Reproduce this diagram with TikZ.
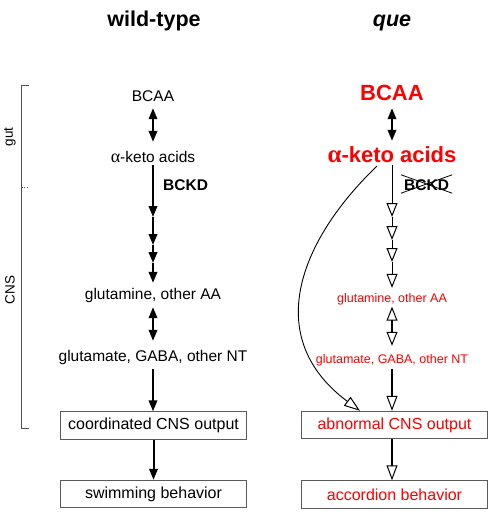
\documentclass[tikz,border=0pt]{standalone}
\usepackage{fontspec}
\setmainfont{Liberation Sans}
\newfontfamily\grk{Liberation Serif}
\usetikzlibrary{arrows.meta}
\definecolor{boxgray}{RGB}{90,90,90}
\definecolor{brgray}{RGB}{80,80,80}
\definecolor{qred}{RGB}{255,0,0}
\begin{document}
\begin{tikzpicture}[x=1pt,y=-1pt,
  lt/.style={inner sep=0pt, anchor=base, font=\fontsize{15.5}{18}\selectfont, text height=11pt, text depth=3pt},
  rsm/.style={inner sep=0pt, anchor=base, text=qred, font=\fontsize{12.5}{15}\selectfont, text height=9pt, text depth=2.5pt},
  rbig/.style={inner sep=0pt, anchor=base, text=qred, font=\bfseries\fontsize{22}{26}\selectfont, text height=16pt, text depth=0pt},
  ttl/.style={inner sep=0pt, anchor=base, font=\bfseries\fontsize{21.5}{25}\selectfont},
  boxn/.style={draw=boxgray, line width=0.9pt, minimum width=186pt, minimum height=27.5pt, inner sep=0pt, font=\fontsize{16}{19}\selectfont},
  solidarr/.style={line width=2pt, -{Triangle[length=11pt,width=8.5pt]}},
  soliddbl/.style={line width=2pt, {Triangle[length=11pt,width=8.5pt]}-{Triangle[length=11pt,width=8.5pt]}},
  openarr/.style={line width=1pt, -{Triangle[open,length=14pt,width=11pt,line width=1pt]}},
  opendbl/.style={line width=1.8pt, {Triangle[open,length=14pt,width=11pt,line width=1pt]}-{Triangle[open,length=14pt,width=11pt,line width=1pt]}},
  openthick/.style={line width=2pt, -{Triangle[open,length=15pt,width=11pt,line width=1pt]}},
  lbl/.style={inner sep=0pt, font=\fontsize{13.5}{16}\selectfont, rotate=90}
]
\useasboundingbox (0,0) rectangle (494,517);

% titles
\node[ttl] (tw) at (154,26) {wild-type};
\node[ttl] (tq) at (392,26) {\itshape que};

% bracket
\coordinate (bt) at (21,85);
\coordinate (bb) at (21,428);
\coordinate (btr) at (29,85);
\coordinate (bbr) at (29,428);
\coordinate (bm) at (21.5,187);
\coordinate (bmr) at (30,187);
\draw[brgray, line width=1pt] (btr) -- (bt) -- (bb) -- (bbr);
\draw[brgray, line width=0.9pt, dotted] (bm) -- (bmr);
\node[lbl] (gut) at (10,137) {gut};
\node[lbl] (cns) at (10,290) {CNS};

% left column
\node[lt] (bcaaL) at (153,101) {BCAA};
\node[lt] (ketoL) at (153,162) {{\grk\fontsize{18}{18}\selectfont α}-keto acids};
\node[lt, anchor=base west, font=\bfseries\fontsize{15.5}{18}\selectfont] (bckdL) at (163,190) {BCKD};
\coordinate (k1) at (153,217);
\coordinate (k2) at (153,245);
\coordinate (k3) at (153,263);
\node[lt] (glutL) at (153,299) {glutamine, other AA};
\node[lt] (ntL) at (153,361) {glutamate, GABA, other NT};
\node[boxn] (coordL) at (153.5,425.5) {coordinated CNS output};
\node[boxn] (swimL) at (153.5,494) {swimming behavior};

\draw[soliddbl] ([yshift=-4pt]bcaaL.south) -- ([yshift=9pt]ketoL.north);
\draw[solidarr] (ketoL.south) -- (k1);
\draw[solidarr] (k1) -- (k2);
\draw[solidarr] (k2) -- (k3);
\draw[solidarr] (k3) -- ([yshift=5pt]glutL.north);
\draw[soliddbl] ([yshift=-5pt]glutL.south) -- ([yshift=9pt]ntL.north);
\draw[solidarr] ([yshift=-5pt]ntL.south) -- (ntL.south |- coordL.north);
\draw[solidarr] (coordL.south) -- (swimL.north);

% right column
\node[rbig] (bcaaR) at (392,100) {BCAA};
\node[rbig] (ketoR) at (392,162) {{\grk\fontsize{25}{26}\selectfont α}-keto acids};
\node[inner sep=0pt, anchor=base west, font=\bfseries\fontsize{15.5}{18}\selectfont, text height=11pt, text depth=0pt] (bckdR) at (404,190) {BCKD};
\draw[line width=0.8pt] ([shift={(-3pt,4pt)}]bckdR.north west) -- ([shift={(3pt,-3pt)}]bckdR.south east);
\draw[line width=0.8pt] ([shift={(-3pt,-3pt)}]bckdR.south west) -- ([shift={(3pt,4pt)}]bckdR.north east);
\coordinate (r1) at (392,217);
\coordinate (r2) at (392,240);
\coordinate (r3) at (392,262);
\node[rsm] (glutR) at (392,302) {glutamine, other AA};
\node[rsm] (ntR) at (392,363) {glutamate, GABA, other NT};
\node[boxn, text=qred] (abnR) at (394.5,425) {abnormal CNS output};
\node[boxn, text=qred] (accR) at (394.5,494.5) {accordion behavior};

\draw[soliddbl] ([yshift=-8pt]bcaaR.south) -- ([yshift=5pt]ketoR.north);
\draw[openarr] ([yshift=-3pt]ketoR.south) -- (r1);
\draw[openarr] (r1) -- (r2);
\draw[openarr] (r2) -- (r3);
\draw[openarr] (r3) -- ([yshift=5pt]glutR.north);
\draw[opendbl] ([yshift=-2pt]glutR.south) -- ([yshift=8pt]ntR.north);
\draw[openthick] ([yshift=-3pt]ntR.south) -- (ntR.south |- abnR.north);
\draw[openthick] (abnR.south -| ntR.south) -- (ntR.south |- accR.north);

% bypass curve
\coordinate (cs) at (377,166);
\draw[line width=0.9pt, -{Triangle[open,length=16pt,width=11pt,line width=1pt]}] (cs) .. controls (300,240) and (261,337) .. ([xshift=-34.5pt]abnR.north);
\end{tikzpicture}
\end{document}
